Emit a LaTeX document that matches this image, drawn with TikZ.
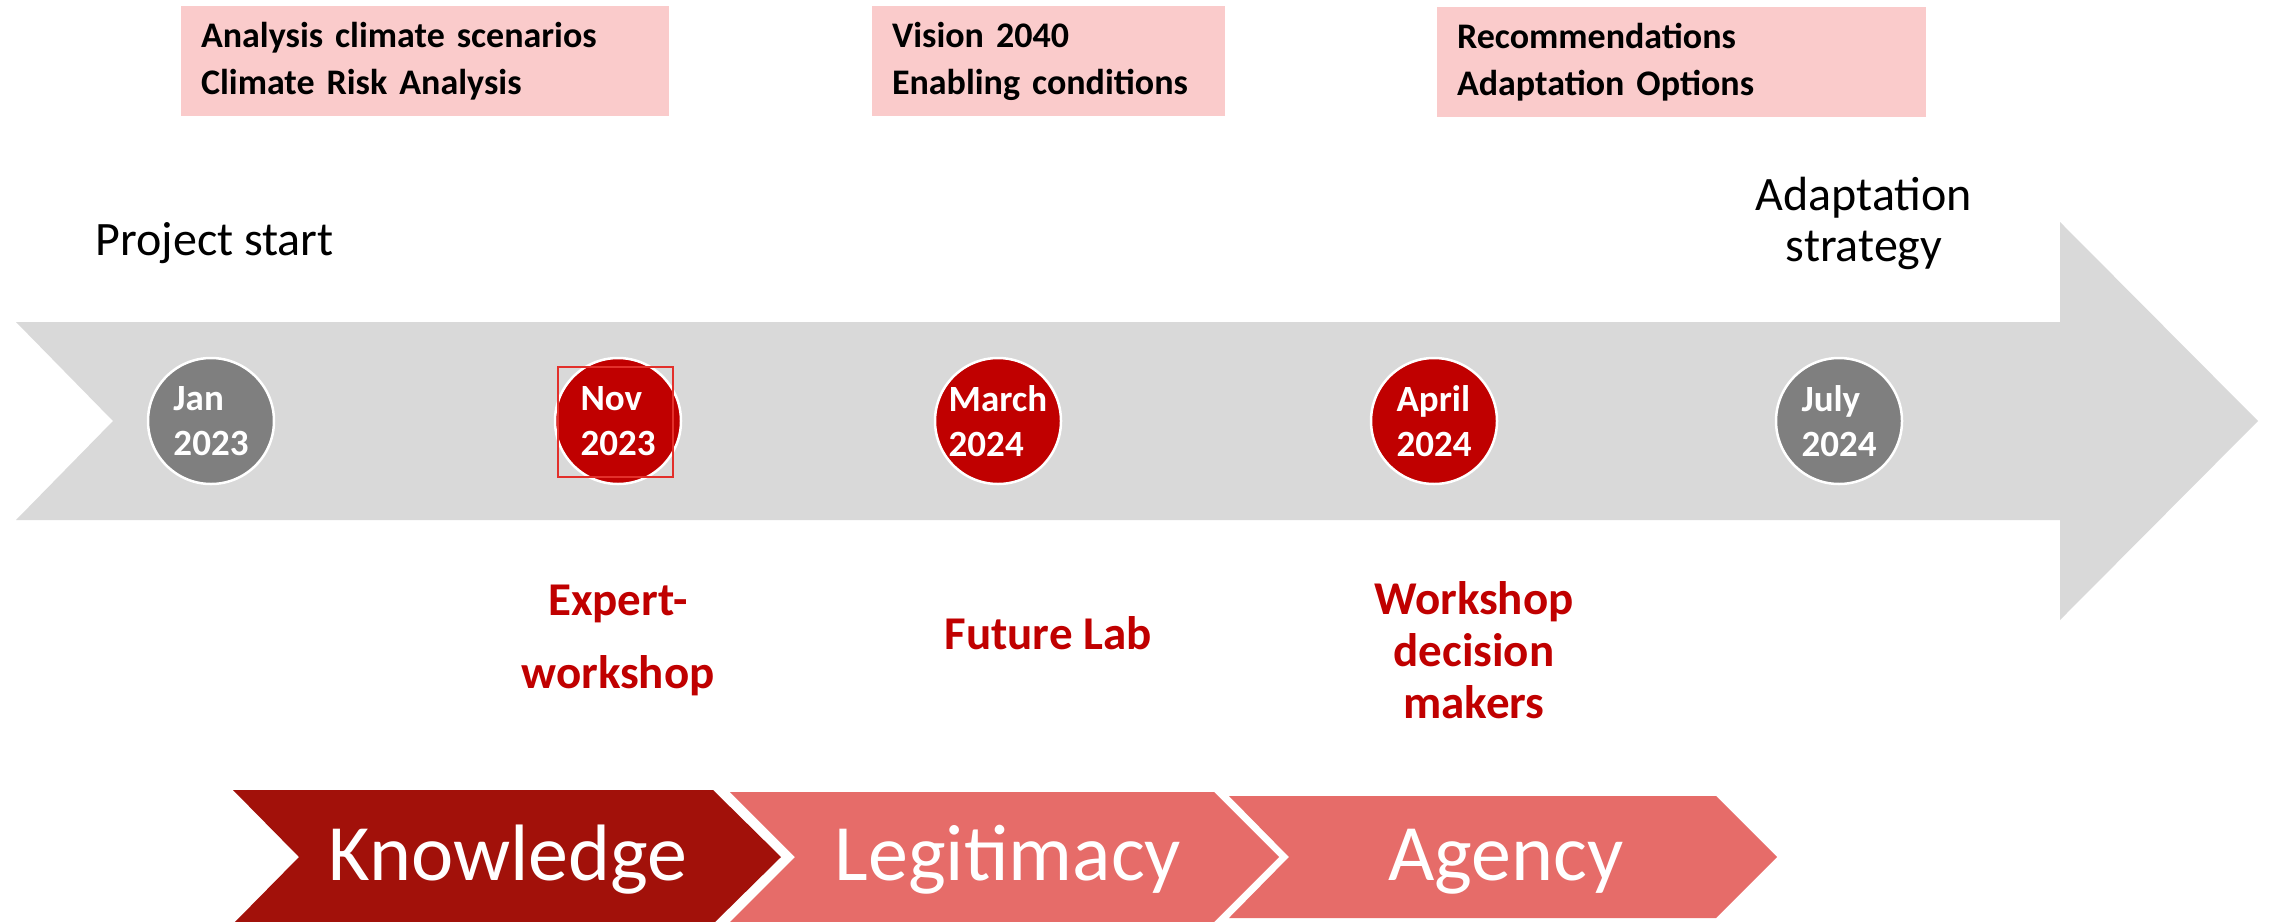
\documentclass[tikz,border=0pt]{standalone}
\usepackage{fontspec}
\setmainfont{Carlito}

\definecolor{arrowgrey}{HTML}{D9D9D9}
\definecolor{dotgrey}{HTML}{7F7F7F}
\definecolor{dotred}{HTML}{C00000}
\definecolor{boxpink}{HTML}{FACBCB}
\definecolor{knowred}{HTML}{A2110A}
\definecolor{phasered}{HTML}{E66C69}
\definecolor{framered}{HTML}{E3302B}

\begin{document}
\begin{tikzpicture}[x=1pt, y=-1pt,
  datedot/.style={circle, draw=white, line width=2.5pt, minimum size=126pt, inner sep=0pt,
    text=white, align=left, font=\bfseries\fontsize{37}{45}\selectfont},
  taskbox/.style={rectangle, fill=boxpink, inner xsep=20pt, inner ysep=0pt, minimum height=110pt,
    align=left, font=\bfseries\fontsize{36}{47}\selectfont},
  eventlabel/.style={text=dotred, align=center, anchor=base, font=\bfseries\fontsize{47}{52}\selectfont},
  milestone/.style={align=center, font=\fontsize{48}{51}\selectfont},
  phase/.style={text=white, anchor=base, font=\fontsize{80}{90}\selectfont}]
\useasboundingbox (0,0) rectangle (2278,921);

% Timeline arrow
\fill[arrowgrey] (16,322) -- (2060,322) -- (2060,222) -- (2258,421) -- (2060,620)
  -- (2060,520) -- (16,520) -- (113,421) -- cycle;

% Work packages
\node[taskbox, text width=448pt] (scenarios) at (425,61) {Analysis climate scenarios\\Climate Risk Analysis};
\node[taskbox, text width=313pt] (vision) at (1048.5,61) {Vision 2040\\Enabling conditions};
\node[taskbox, text width=449pt] (options) at (1681.5,62) {Recommendations\\Adaptation Options};

% Start and end
\node[milestone, anchor=base west] (start) at (92,255) {Project start};
\node[milestone, anchor=base] (strategy) at (1864,261) {Adaptation\\strategy};

% Dates
\node[datedot, fill=dotgrey] (jan) at (211,421) {Jan\\2023};
\node[datedot, fill=dotred] (nov) at (618,421) {Nov\\2023};
\node[draw=framered, line width=2pt, minimum width=115pt, minimum height=110pt, inner sep=0pt] (novframe) at (615.5,422) {};
\node[datedot, fill=dotred] (march) at (998,421) {March\\2024};
\node[datedot, fill=dotred] (april) at (1434,421) {April\\2024};
\node[datedot, fill=dotgrey] (july) at (1839,421) {July\\2024};

% Events
\node[eventlabel] (expert) at (618,688) {Expert-\\[21pt]workshop};
\node[eventlabel] (futurelab) at (1048,649) {Future Lab};
\node[eventlabel] (decision) at (1474,718) {Workshop\\decision\\makers};

% Phases
\fill[knowred] (233,790) -- (713,790) -- (781,857) -- (713,924) -- (233,924) -- (299,857) -- cycle;
\node[phase] (knowledge) at (508,880) {Knowledge};
\fill[phasered] (730,792) -- (1214,792) -- (1279,857) -- (1214,922) -- (730,922) -- (795,857) -- cycle;
\node[phase] (legitimacy) at (1008,880) {Legitimacy};
\fill[phasered] (1229,796) -- (1716,796) -- (1777,857) -- (1716,918) -- (1229,918) -- (1289,857) -- cycle;
\node[phase] (agency) at (1506,880) {Agency};

\end{tikzpicture}
\end{document}
